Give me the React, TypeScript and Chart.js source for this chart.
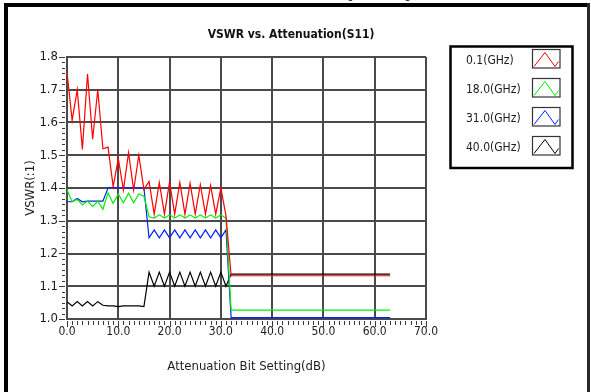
import React, { useEffect, useRef } from "react";
import { Chart, registerables } from "chart.js";

Chart.register(...registerables);

// ---------- data ----------
const bitSetting = [
  0, 1, 2, 3, 4, 5, 6, 7, 8, 9, 10, 11, 12, 13, 14, 15,
  16, 17, 18, 19, 20, 21, 22, 23, 24, 25, 26, 27, 28, 29, 30, 31,
  32, 33, 34, 35, 36, 37, 38, 39, 40, 41, 42, 43, 44, 45, 46, 47,
  48, 49, 50, 51, 52, 53, 54, 55, 56, 57, 58, 59, 60, 61, 62, 63,
];

const vswr01GHz = [
  1.755, 1.607, 1.7, 1.518, 1.748, 1.549, 1.7, 1.52, 1.525, 1.404, 1.49, 1.394, 1.508, 1.394, 1.5, 1.395,
  1.42, 1.32, 1.417, 1.32, 1.418, 1.32, 1.417, 1.32, 1.415, 1.32, 1.41, 1.32, 1.408, 1.32, 1.4, 1.315,
  1.132, 1.132, 1.132, 1.132, 1.132, 1.132, 1.132, 1.132, 1.132, 1.132, 1.132, 1.132, 1.132, 1.132, 1.132, 1.132,
  1.132, 1.132, 1.132, 1.132, 1.132, 1.132, 1.132, 1.132, 1.132, 1.132, 1.132, 1.132, 1.132, 1.132, 1.132, 1.132,
];

const vswr18GHz = [
  1.395, 1.358, 1.365, 1.348, 1.36, 1.343, 1.36, 1.335, 1.385, 1.353, 1.382, 1.355, 1.384, 1.355, 1.382, 1.375,
  1.312, 1.308, 1.318, 1.308, 1.318, 1.308, 1.318, 1.308, 1.318, 1.308, 1.318, 1.308, 1.318, 1.308, 1.318, 1.308,
  1.027, 1.027, 1.027, 1.027, 1.027, 1.027, 1.027, 1.027, 1.027, 1.027, 1.027, 1.027, 1.027, 1.027, 1.027, 1.027,
  1.027, 1.027, 1.027, 1.027, 1.027, 1.027, 1.027, 1.027, 1.027, 1.027, 1.027, 1.027, 1.027, 1.027, 1.027, 1.027,
];

const vswr31GHz = [
  1.358, 1.358, 1.368, 1.358, 1.36, 1.36, 1.36, 1.36, 1.4, 1.402, 1.4, 1.402, 1.4, 1.402, 1.4, 1.4,
  1.248, 1.272, 1.248, 1.272, 1.248, 1.272, 1.248, 1.272, 1.248, 1.272, 1.248, 1.272, 1.248, 1.272, 1.248, 1.272,
  1.004, 1.004, 1.004, 1.004, 1.004, 1.004, 1.004, 1.004, 1.004, 1.004, 1.004, 1.004, 1.004, 1.004, 1.004, 1.004,
  1.004, 1.004, 1.004, 1.004, 1.004, 1.004, 1.004, 1.004, 1.004, 1.004, 1.004, 1.004, 1.004, 1.004, 1.004, 1.004,
];

const vswr40GHz = [
  1.053, 1.04, 1.053, 1.04, 1.053, 1.04, 1.053, 1.042, 1.04, 1.04, 1.038, 1.04, 1.04, 1.04, 1.04, 1.038,
  1.143, 1.1, 1.143, 1.1, 1.143, 1.1, 1.143, 1.1, 1.143, 1.1, 1.143, 1.1, 1.143, 1.1, 1.143, 1.1,
  1.137, 1.137, 1.137, 1.137, 1.137, 1.137, 1.137, 1.137, 1.137, 1.137, 1.137, 1.137, 1.137, 1.137, 1.137, 1.137,
  1.137, 1.137, 1.137, 1.137, 1.137, 1.137, 1.137, 1.137, 1.137, 1.137, 1.137, 1.137, 1.137, 1.137, 1.137, 1.137,
];

const seriesNames = ["0.1(GHz)", "18.0(GHz)", "31.0(GHz)", "40.0(GHz)"];
const seriesColors = ["#ff0000", "#00ee00", "#0022ff", "#000000"];
const seriesValues = [vswr01GHz, vswr18GHz, vswr31GHz, vswr40GHz];

const xTickValues = [0, 10, 20, 30, 40, 50, 60, 70];
const yTickValues = [1.0, 1.1, 1.2, 1.3, 1.4, 1.5, 1.6, 1.7, 1.8];

const chartTitle = "VSWR vs. Attenuation(S11)";
const xAxisTitle = "Attenuation Bit Setting(dB)";
const yAxisTitle = "VSWR(:1)";
const cutHeading = "(S11)";

const FONT = "'DejaVu Sans Condensed', 'Liberation Sans Narrow', 'DejaVu Sans', sans-serif";
const TEXT_COLOR = "#1c1c1c";
const GRID_COLOR = "#4a4a4a";

const decorPlugin = {
  id: "decor",
  beforeDraw(chart: any) {
    const { ctx, width, height } = chart;
    ctx.save();
    ctx.fillStyle = "#ffffff";
    ctx.fillRect(0, 0, width, height);
    ctx.restore();
  },
  afterDraw(chart: any) {
    const { ctx, chartArea } = chart;
    const xs = chart.scales.x;
    const ys = chart.scales.y;
    ctx.save();

    // outer frame
    ctx.fillStyle = "#000";
    ctx.fillRect(4, 3, 586, 4);
    ctx.fillRect(4, 3, 4, 389);
    ctx.fillStyle = "#2a2a2a";
    ctx.fillRect(587, 3, 3, 389);

    // cut-off heading above the frame
    ctx.fillStyle = "#000";
    ctx.font = `bold 26px ${FONT}`;
    ctx.textAlign = "center";
    ctx.textBaseline = "alphabetic";
    ctx.fillText(cutHeading, 379, -3);

    // title
    ctx.fillStyle = "#111";
    ctx.font = `bold 12px ${FONT}`;
    ctx.textBaseline = "middle";
    ctx.fillText(chartTitle, 291, 35);

    // x title
    ctx.fillStyle = TEXT_COLOR;
    ctx.font = `13px ${FONT}`;
    ctx.fillText(xAxisTitle, (chartArea.left + chartArea.right) / 2, 367);

    // y title
    ctx.save();
    ctx.translate(31, (chartArea.top + chartArea.bottom) / 2);
    ctx.rotate(-Math.PI / 2);
    ctx.fillText(yAxisTitle, 0, 0);
    ctx.restore();

    // minor / major ticks
    ctx.strokeStyle = "#3a3a3a";
    ctx.lineWidth = 1;
    ctx.beginPath();
    const yMin = yTickValues[0];
    const yStep = (yTickValues[1] - yTickValues[0]) / 6;
    for (let i = 0; i <= (yTickValues.length - 1) * 6; i++) {
      const py = Math.round(ys.getPixelForValue(yMin + i * yStep)) + 0.5;
      const x0 = i % 6 === 0 ? 59 : 62;
      ctx.moveTo(x0, py);
      ctx.lineTo(65, py);
    }
    const xMin = xTickValues[0];
    const xMax = xTickValues[xTickValues.length - 1];
    for (let v = xMin; v <= xMax; v++) {
      const px = Math.round(xs.getPixelForValue(v)) + 0.5;
      const y1 = v % 10 === 0 ? 327 : 325;
      ctx.moveTo(px, 321);
      ctx.lineTo(px, y1);
    }
    ctx.stroke();

    // legend
    ctx.strokeStyle = "#000";
    ctx.lineWidth = 2.5;
    ctx.strokeRect(450.5, 46.5, 122, 121.5);
    ctx.font = `12px ${FONT}`;
    ctx.textAlign = "left";
    ctx.textBaseline = "middle";
    for (let i = 0; i < seriesNames.length; i++) {
      const top = 49.5 + i * 29;
      ctx.fillStyle = TEXT_COLOR;
      ctx.fillText(seriesNames[i], 466, top + 11.5);
      ctx.strokeStyle = "#333";
      ctx.lineWidth = 1.2;
      ctx.strokeRect(532.5, top, 27.5, 18.5);
      ctx.strokeStyle = seriesColors[i];
      ctx.lineWidth = 1;
      ctx.beginPath();
      ctx.moveTo(534, top + 17);
      ctx.lineTo(545, top + 3);
      ctx.lineTo(555, top + 17);
      ctx.lineTo(558.5, top + 12);
      ctx.stroke();
    }
    ctx.restore();
  },
};

export default function App() {
  const canvasRef = useRef<HTMLCanvasElement | null>(null);

  useEffect(() => {
    document.body.style.margin = "0";
    document.body.style.overflow = "hidden";
    const canvas = canvasRef.current;
    if (!canvas) return;

    const datasets = seriesValues.map((vals, i) => ({
      label: seriesNames[i],
      data: bitSetting.map((x, j) => ({ x, y: vals[j] })),
      borderColor: seriesColors[i],
      backgroundColor: seriesColors[i],
      borderWidth: 1.2,
      pointRadius: 0,
      tension: 0,
      fill: false,
    }));

    const chart = new Chart(canvas, {
      type: "line",
      data: { datasets },
      plugins: [decorPlugin],
      options: {
        responsive: false,
        animation: false,
        devicePixelRatio: 1,
        layout: { padding: { left: 0, top: 57, right: 165, bottom: 0 } },
        plugins: {
          legend: { display: false },
          tooltip: { enabled: false },
          title: { display: false },
        },
        scales: {
          x: {
            type: "linear",
            min: xTickValues[0],
            max: xTickValues[xTickValues.length - 1],
            afterBuildTicks: (s: any) => {
              s.ticks = xTickValues.map((v) => ({ value: v }));
            },
            afterFit: (s: any) => {
              s.height = 73;
            },
            ticks: {
              callback: (v: any) => Number(v).toFixed(1),
              font: { family: FONT, size: 12 },
              color: TEXT_COLOR,
              padding: 6,
              maxRotation: 0,
              autoSkip: false,
            },
            grid: { color: GRID_COLOR, lineWidth: 2, drawTicks: false },
            border: { color: GRID_COLOR, width: 2 },
          },
          y: {
            type: "linear",
            min: yTickValues[0],
            max: yTickValues[yTickValues.length - 1],
            afterBuildTicks: (s: any) => {
              s.ticks = yTickValues.map((v) => ({ value: v }));
            },
            afterFit: (s: any) => {
              s.width = 67;
            },
            ticks: {
              callback: (v: any) => Number(v).toFixed(1),
              font: { family: FONT, size: 13 },
              color: TEXT_COLOR,
              padding: 9,
              autoSkip: false,
            },
            grid: { color: GRID_COLOR, lineWidth: 2, drawTicks: false },
            border: { color: GRID_COLOR, width: 2 },
          },
        },
      },
    });
    return () => chart.destroy();
  }, []);

  return (
    <div style={{ width: 591, height: 392 }}>
      <canvas ref={canvasRef} width={591} height={392} style={{ display: "block" }} />
    </div>
  );
}
